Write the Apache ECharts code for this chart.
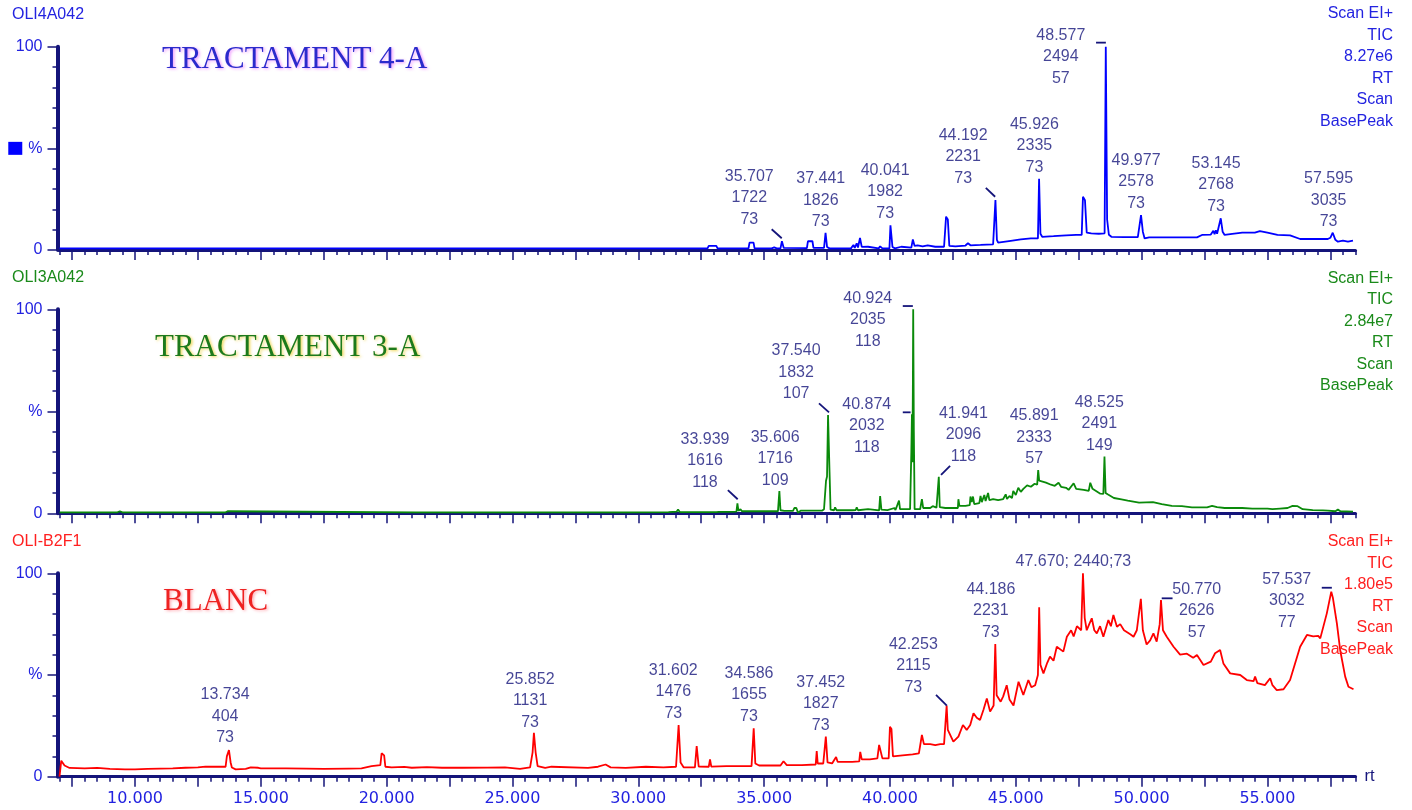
<!DOCTYPE html>
<html>
<head>
<meta charset="utf-8">
<title>Cromatograme TIC</title>
<script src="https://cdn.jsdelivr.net/npm/echarts@6/dist/echarts.min.js"></script>
<style>
  html, body { margin: 0; padding: 0; background: #fff; }
  #chart { width: 1412px; height: 810px; }
</style>
</head>
<body>
<div id="chart"></div>
<script>
// x: retention time (min), y: relative intensity (%)
const rtMin = 7
const rtMax = 58.5
const majorTicks = [7.5, 10, 12.5, 15, 17.5, 20, 22.5, 25, 27.5, 30, 32.5, 35, 37.5, 40, 42.5, 45, 47.5, 50, 52.5, 55, 57.5]
const labelTicks = [10, 15, 20, 25, 30, 35, 40, 45, 50, 55]

// OLI4A042 - TRACTAMENT 4-A
const blueTrace = [[7.0, 0.8], [32.75, 0.8], [32.8, 2.0], [33.1, 2.0], [33.15, 0.8],
  [34.38, 0.8], [34.42, 3.6], [34.58, 3.6], [34.62, 0.8],
  [35.3, 0.8], [35.4, 1.3], [35.5, 0.8], [35.65, 0.8], [35.707, 4.3], [35.78, 1.0],
  [36.7, 0.9], [36.74, 4.3], [36.92, 4.3], [36.96, 1.0],
  [37.38, 1.0], [37.441, 8.5], [37.5, 1.5], [37.6, 0.8],
  [38.45, 0.8], [38.55, 2.5], [38.6, 1.0], [38.68, 3.3], [38.73, 1.2], [38.81, 5.9], [38.88, 1.5], [38.95, 1.0],
  [39.13, 1.6], [39.2, 0.8], [39.55, 0.8], [39.61, 1.8], [39.7, 0.8],
  [39.98, 0.8], [40.02, 12.1], [40.06, 11.5], [40.1, 1.5], [40.2, 0.8], [40.45, 1.6], [40.5, 0.9],
  [40.85, 1.2], [40.91, 5.2], [40.98, 2.0], [41.1, 2.3], [41.3, 1.8], [41.5, 2.3], [41.8, 1.6], [42.15, 1.6],
  [42.2, 2.0], [42.23, 16.4], [42.3, 15.0], [42.36, 2.0],
  [42.6, 1.8], [43.0, 2.2], [43.1, 3.3], [43.2, 2.3], [43.6, 2.5], [44.1, 2.8],
  [44.15, 3.0], [44.192, 24.6], [44.25, 5.0], [44.3, 3.6],
  [44.8, 4.5], [45.2, 5.2], [45.6, 5.7], [45.88, 5.7], [45.926, 35.0], [45.98, 8.0], [46.05, 6.5],
  [46.5, 6.8], [47.0, 7.2], [47.4, 7.4], [47.62, 7.4], [47.67, 26.2], [47.75, 24.5], [47.82, 8.5], [48.0, 8.2],
  [48.3, 8.0], [48.53, 8.2], [48.577, 100], [48.63, 15.0], [48.7, 7.5], [48.8, 6.5],
  [49.3, 6.3], [49.85, 6.3], [49.9, 5.8], [49.977, 17.2], [50.05, 9.0], [50.12, 5.7], [50.3, 6.2],
  [51.5, 6.2], [52.2, 6.2], [52.4, 7.4], [52.75, 7.6], [52.85, 9.5], [52.9, 7.8], [52.95, 9.7], [53.0, 8.0],
  [53.145, 15.6], [53.22, 9.0], [53.3, 7.4],
  [53.6, 7.9], [54.0, 8.5], [54.5, 8.5], [54.7, 9.3], [55.0, 8.5], [55.4, 7.4], [55.9, 7.2], [56.3, 5.4],
  [57.4, 5.4], [57.5, 6.0], [57.595, 8.5], [57.7, 5.0], [57.8, 4.1], [58.0, 4.6], [58.2, 4.1], [58.4, 4.6]]

const t4aRT = ['35.707', '37.441', '40.041', '44.192', '45.926', '48.577', '49.977', '53.145', '57.595']
const t4aScan = [1722, 1826, 1982, 2231, 2335, 2494, 2578, 2768, 3035]
const t4aMass = [73, 73, 73, 73, 73, 57, 73, 73, 73]
const t4aLabelAt = [[34.41, 25.6], [37.25, 24.4], [39.81, 28.5], [42.91, 45.7], [45.74, 51.3], [46.79, 95.1], [49.78, 33.6], [52.96, 32.1], [57.43, 24.4]]
const t4aLeaders = [[[35.30, 10.2], [35.70, 5.8]], [[43.81, 30.6], [44.18, 26.2]], [[48.19, 102], [48.58, 102]]]

// OLI3A042 - TRACTAMENT 3-A
const greenTrace = [[7.0, 0.5], [9.3, 0.5], [9.4, 1.0], [9.5, 0.5], [13.6, 0.5], [13.68, 1.0], [13.75, 0.5],
  [21.15, 0.5], [21.2, 1.1], [21.25, 0.5], [21.75, 0.5], [21.8, 1.0], [21.85, 0.5], [22.2, 0.5], [22.25, 1.1], [22.3, 0.5],
  [24.7, 0.5], [24.77, 1.0], [24.85, 0.5], [26.1, 0.5], [26.16, 1.0], [26.22, 0.5], [27.25, 0.5], [27.29, 0.9], [27.33, 0.5],
  [29.1, 0.5], [29.14, 0.9], [29.2, 0.5], [29.56, 0.5], [29.61, 1.0], [29.67, 0.5],
  [31.2, 0.6], [31.26, 1.0], [31.52, 0.8], [31.58, 1.8], [31.65, 0.6], [32.28, 0.6], [32.32, 1.2], [32.38, 0.6],
  [33.1, 0.6], [33.15, 1.2], [33.2, 0.7], [33.45, 0.7], [33.5, 1.2], [33.55, 0.7],
  [33.9, 0.8], [33.939, 4.9], [33.98, 1.2], [34.06, 2.0], [34.12, 1.0], [34.6, 1.0], [35.2, 1.0],
  [35.55, 1.0], [35.606, 10.9], [35.65, 1.5], [35.8, 1.2],
  [36.15, 1.2], [36.2, 2.6], [36.28, 2.6], [36.35, 0.2], [36.45, 1.3],
  [37.3, 1.3], [37.38, 2.0], [37.46, 16.0], [37.5, 18.0], [37.54, 48.2], [37.6, 20.0], [37.64, 1.8],
  [37.78, 1.5], [37.82, 2.9], [37.88, 1.5], [38.5, 1.5], [38.64, 1.6], [38.68, 2.9], [38.73, 1.5], [39.13, 2.0], [39.2, 1.4],
  [39.57, 1.4], [39.61, 8.5], [39.66, 1.8], [39.9, 1.6], [40.18, 2.6], [40.22, 1.6], [40.36, 6.2], [40.4, 2.0], [40.7, 2.0],
  [40.8, 2.0], [40.85, 30.0], [40.874, 48.5], [40.89, 25.0], [40.91, 60.0], [40.924, 100], [40.95, 40.0], [40.98, 2.0],
  [41.2, 2.0], [41.27, 6.9], [41.32, 2.6], [41.6, 2.6], [41.7, 3.5], [41.85, 2.8],
  [41.9, 2.6], [41.941, 17.9], [41.98, 3.0], [42.2, 2.6], [42.7, 2.6], [42.72, 6.9], [42.76, 3.6], [43.0, 3.6],
  [43.17, 4.0], [43.2, 8.2], [43.25, 5.5], [43.3, 8.2], [43.35, 4.5],
  [43.55, 5.0], [43.6, 8.5], [43.65, 5.5], [43.75, 9.0], [43.8, 6.0], [43.9, 10.0], [43.95, 6.5], [44.1, 7.0],
  [44.3, 6.5], [44.5, 7.0], [44.6, 9.3], [44.65, 7.0], [44.75, 8.5], [44.85, 7.5],
  [44.9, 11.0], [45.0, 9.0], [45.1, 12.5], [45.2, 10.5], [45.3, 12.0], [45.45, 13.7], [45.6, 13.0], [45.75, 14.5],
  [45.85, 14.0], [45.891, 21.2], [45.93, 16.0], [46.0, 15.5], [46.2, 15.0], [46.4, 14.0], [46.55, 13.5], [46.7, 15.0],
  [46.8, 13.0], [47.0, 12.5], [47.1, 11.5], [47.3, 14.7], [47.4, 12.0], [47.7, 11.5], [47.9, 11.0], [47.96, 15.0],
  [48.05, 12.0], [48.36, 9.6], [48.48, 9.5], [48.525, 27.8], [48.57, 10.0], [48.65, 9.3],
  [48.9, 7.5], [49.2, 6.8], [49.45, 6.2], [49.9, 5.2], [50.45, 5.5], [50.8, 4.5], [51.2, 3.6], [51.6, 3.5],
  [52.0, 2.9], [52.6, 2.9], [52.8, 3.6], [53.0, 3.0], [53.3, 2.6], [54.0, 2.6], [54.4, 2.3], [55.0, 2.3], [55.2, 2.0],
  [55.5, 2.3], [55.8, 2.6], [56.0, 3.6], [56.2, 3.5], [56.4, 2.0], [56.8, 1.6], [57.2, 1.4], [57.4, 1.3],
  [57.7, 1.0], [57.8, 1.8], [57.9, 1.0], [58.4, 0.8]]

const t3aRT = ['33.939', '35.606', '37.540', '40.924', '40.874', '41.941', '45.891', '48.525']
const t3aScan = [1616, 1716, 1832, 2035, 2032, 2096, 2333, 2491]
const t3aMass = [118, 109, 107, 118, 118, 118, 57, 149]
const t3aLabelAt = [[32.65, 25.8], [35.44, 26.8], [36.27, 69.1], [39.12, 94.8], [39.08, 42.9], [42.92, 38.4], [45.73, 37.3], [48.32, 43.8]]
const t3aLeaders = [[[33.56, 11.4], [33.95, 6.9]], [[37.18, 53.9], [37.58, 49.5]], [[40.51, 101.6], [40.91, 101.6]],
  [[40.51, 49.5], [40.82, 49.5]], [[42.39, 23.2], [42.03, 18.8]]]

// OLI-B2F1 - BLANC
const redTrace = [[7.0, 0], [7.07, 7.9], [7.2, 5.5], [7.4, 4.3], [8.0, 4.1], [8.5, 4.3], [9.0, 3.8], [9.6, 3.6], [10.0, 3.6], [10.5, 3.8],
  [11.0, 4.0], [11.5, 4.1], [12.0, 4.4], [12.5, 4.6], [12.8, 5.0], [13.3, 4.9], [13.6, 4.9], [13.65, 10.0], [13.734, 13.1], [13.8, 7.0],
  [13.85, 4.5], [14.0, 3.6], [14.4, 3.8], [14.6, 4.6], [14.9, 4.4], [15.0, 4.1], [16.0, 4.1], [16.8, 4.0], [17.5, 3.8],
  [18.5, 4.0], [19.0, 4.1], [19.4, 5.2], [19.75, 5.7], [19.8, 11.5], [19.9, 10.5], [19.95, 4.9], [20.2, 4.6],
  [20.7, 4.8], [21.0, 4.4], [21.6, 4.7], [22.2, 4.4], [23.0, 4.4], [24.0, 4.5], [24.7, 4.6], [25.3, 3.8], [25.7, 4.6], [25.8, 12.0], [25.852, 21.6], [25.92, 12.0],
  [26.0, 5.2], [26.3, 4.3], [26.55, 4.9], [26.6, 4.3], [28.0, 4.3], [28.4, 4.9], [28.7, 6.0], [28.9, 4.6],
  [29.5, 4.3], [30.3, 4.9], [31.0, 4.6], [31.5, 4.9], [31.602, 25.4], [31.68, 7.0], [31.8, 4.6], [32.25, 4.6],
  [32.32, 15.1], [32.4, 5.0], [32.8, 4.9], [32.85, 8.5], [32.9, 5.0], [33.5, 5.2], [34.0, 5.2], [34.5, 5.2],
  [34.586, 23.8], [34.65, 6.5], [34.8, 5.5], [35.65, 5.5], [35.77, 7.6], [35.9, 5.7], [36.5, 5.7], [37.05, 6.0],
  [37.09, 12.6], [37.13, 6.5], [37.35, 6.5], [37.452, 19.7], [37.52, 7.0], [37.7, 6.5], [37.86, 9.7], [37.92, 7.3],
  [38.5, 7.3], [38.78, 7.5], [38.82, 12.2], [38.88, 8.5], [39.2, 8.5], [39.5, 9.0], [39.57, 15.6], [39.64, 15.0],
  [39.7, 9.0], [39.95, 9.0], [40.0, 24.6], [40.06, 23.5], [40.12, 10.0], [40.5, 10.5], [40.9, 11.0], [41.15, 11.5],
  [41.27, 20.5], [41.35, 16.0], [41.6, 16.0], [41.8, 15.5], [42.0, 16.0], [42.15, 16.0], [42.253, 35.0], [42.3, 23.0],
  [42.52, 17.2], [42.72, 19.7], [42.9, 25.4], [43.05, 23.0], [43.19, 25.4], [43.32, 31.2], [43.45, 29.0], [43.58, 27.9], [43.72, 33.0], [43.85, 38.5], [43.98, 32.0],
  [44.12, 35.0], [44.186, 65.2], [44.24, 40.0], [44.4, 36.9], [44.5, 39.5], [44.64, 45.0], [44.75, 38.0], [44.91, 35.0], [45.11, 46.7], [45.3, 40.2],
  [45.5, 47.5], [45.62, 44.0], [45.77, 45.0], [45.88, 50.0], [45.93, 83.3], [45.98, 55.0], [46.1, 50.8], [46.25, 56.0], [46.36, 59.0], [46.5, 57.0], [46.63, 63.9],
  [46.89, 61.5], [47.03, 68.8], [47.2, 72.0], [47.3, 69.0], [47.43, 74.0], [47.6, 72.0], [47.67, 100], [47.74, 78.0], [47.82, 72.0],
  [47.92, 75.0], [48.02, 77.9], [48.12, 72.0], [48.22, 70.5], [48.35, 74.0], [48.48, 68.8], [48.68, 77.0], [48.78, 74.0], [48.88, 79.5], [49.02, 73.7], [49.15, 75.0], [49.3, 72.0], [49.55, 70.0],
  [49.68, 68.8], [49.81, 72.0], [49.97, 87.4], [50.05, 72.0], [50.2, 65.0], [50.34, 67.0], [50.47, 70.5], [50.6, 66.4],
  [50.72, 75.0], [50.77, 86.9], [50.85, 72.0], [51.0, 68.8], [51.27, 63.9], [51.53, 60.0], [51.8, 60.5], [52.05, 58.5], [52.2, 59.8],
  [52.46, 54.9], [52.75, 56.6], [52.92, 60.7], [53.12, 62.3], [53.25, 55.7], [53.52, 50.8], [53.92, 50.0], [54.18, 47.5],
  [54.45, 47.0], [54.51, 49.2], [54.6, 46.0], [54.9, 45.0], [55.11, 48.4], [55.2, 45.0], [55.37, 42.6], [55.64, 43.0],
  [55.9, 47.5], [56.3, 63.9], [56.57, 69.7], [56.82, 69.0], [57.02, 69.2], [57.1, 68.0], [57.36, 80.3], [57.537, 91.0],
  [57.6, 88.0], [57.76, 75.4], [57.89, 62.3], [58.09, 49.2], [58.22, 44.2], [58.42, 43.0]]

const blancRT = ['13.734', '25.852', '31.602', '34.586', '37.452', '42.253', '44.186', '47.670', '50.770', '57.537']
const blancScan = [404, 1131, 1476, 1655, 1827, 2115, 2231, 2440, 2626, 3032]
const blancMass = [73, 73, 73, 73, 73, 73, 73, 73, 57, 77]
const blancInline = [7]
const blancLabelAt = [[13.58, 29.7], [25.70, 37.4], [31.39, 41.6], [34.40, 40.2], [37.25, 35.7], [40.93, 54.4],
  [44.01, 81.5], [47.29, 105.7], [52.19, 81.5], [55.77, 86.4]]
const blancLeaders = [[[41.83, 40.2], [42.26, 34.9]], [[50.80, 87.7], [51.23, 87.7]], [[57.16, 92.9], [57.56, 92.9]]]

const navy = '#14147a'
const ink = '#16167c'
const axisBlue = '#2222e0'

const panels = [
  {id: 'OLI4A042', tic: '8.27e6', name: 'TRACTAMENT 4-A', trace: blueTrace, color: '#0000ff', head: '#2323e0',
    nameColor: '#2b2bcc', glow: 'rgba(235,120,255,0.75)', rt: t4aRT, scan: t4aScan, mass: t4aMass, inline: [],
    at: t4aLabelAt, leaders: t4aLeaders, top: 46.7, height: 203.3, nameLeft: 162, nameTop: 44, idTop: 7, infoTop: 3.3},
  {id: 'OLI3A042', tic: '2.84e7', name: 'TRACTAMENT 3-A', trace: greenTrace, color: '#0a8a0a', head: '#1a8a1a',
    nameColor: '#1c7a1c', glow: 'rgba(235,205,40,0.8)', rt: t3aRT, scan: t3aScan, mass: t3aMass, inline: [],
    at: t3aLabelAt, leaders: t3aLeaders, top: 309.3, height: 204, nameLeft: 155, nameTop: 332, idTop: 270, infoTop: 267.5},
  {id: 'OLI-B2F1', tic: '1.80e5', name: 'BLANC', trace: redTrace, color: '#ff0000', head: '#ff2020',
    nameColor: '#ee2222', glow: 'rgba(255,150,160,0.8)', rt: blancRT, scan: blancScan, mass: blancMass, inline: blancInline,
    at: blancLabelAt, leaders: blancLeaders, top: 573.3, height: 203.4, nameLeft: 163, nameTop: 586, idTop: 534, infoTop: 531}
]

const grid = []
const xAxis = []
const yAxis = []
const series = []
const title = []

panels.forEach((p, i) => {
  const last = i === panels.length - 1
  grid.push({left: 59.5, width: 1296, top: p.top, height: p.height})

  xAxis.push({
    type: 'value', gridIndex: i, min: rtMin, max: rtMax, position: 'bottom',
    axisLine: {show: true, onZero: false, lineStyle: {color: navy, width: 3}},
    axisTick: {show: true, customValues: majorTicks, length: 10, lineStyle: {color: navy, width: 1.5}},
    axisLabel: {show: last, customValues: labelTicks, formatter: v => v.toFixed(3), color: axisBlue,
      fontSize: 16, fontFamily: 'DejaVu Sans', margin: 14},
    splitLine: {show: false},
    name: last ? 'rt' : '', nameLocation: 'end', nameGap: 9,
    nameTextStyle: {color: ink, fontSize: 16.5, fontFamily: 'Liberation Sans', verticalAlign: 'middle'}
  })
  // minor ticks every 0.5 min
  xAxis.push({
    type: 'value', gridIndex: i, min: rtMin, max: rtMax, interval: 0.5, position: 'bottom',
    axisLine: {show: false, onZero: false},
    axisTick: {show: true, length: 5, lineStyle: {color: navy, width: 1.5}},
    axisLabel: {show: false},
    splitLine: {show: false}
  })

  yAxis.push({
    type: 'value', gridIndex: i, min: 0, max: 100, interval: 50, offset: 2,
    axisLine: {show: true, lineStyle: {color: navy, width: 4}},
    axisTick: {show: true, length: 10, lineStyle: {color: navy, width: 1.5}},
    minorTick: {show: true, splitNumber: 5, length: 5, lineStyle: {color: navy, width: 1.5}},
    splitLine: {show: false},
    axisLabel: {
      color: axisBlue, fontSize: 16, fontFamily: 'Liberation Sans', margin: 15,
      formatter: v => v === 50 ? (i === 0 ? '{sq|}{gap|}%' : '%') : String(v),
      rich: {sq: {width: 14, height: 13, backgroundColor: '#0000ff'}, gap: {width: 6}}
    }
  })

  series.push({
    type: 'line', xAxisIndex: 2 * i, yAxisIndex: i, data: p.trace,
    symbol: 'none', showSymbol: false, silent: true,
    lineStyle: {color: p.color, width: 1.8}, itemStyle: {color: p.color}
  })

  series.push({
    type: 'scatter', xAxisIndex: 2 * i, yAxisIndex: i, symbolSize: 1, clip: false, silent: true,
    itemStyle: {color: 'rgba(0,0,0,0)'},
    data: p.rt.map((rt, k) => ({
      value: p.at[k],
      name: p.inline.includes(k) ? rt + '; ' + p.scan[k] + ';' + p.mass[k] : [rt, p.scan[k], p.mass[k]].join('\n')
    })),
    label: {show: true, position: 'inside', formatter: d => d.name, color: ink, fontSize: 16,
      lineHeight: 21.5, fontFamily: 'Liberation Sans'}
  })

  p.leaders.forEach(seg => {
    series.push({
      type: 'line', xAxisIndex: 2 * i, yAxisIndex: i, data: seg, symbol: 'none', clip: false, silent: true,
      lineStyle: {color: navy, width: 1.8}
    })
  })

  title.push({text: p.id, left: 12, top: p.idTop, padding: 0,
    textStyle: {color: p.head, fontSize: 16, fontWeight: 'normal', fontFamily: 'Liberation Sans', lineHeight: 16}})
  title.push({text: ['Scan EI+', 'TIC', p.tic, 'RT', 'Scan', 'BasePeak'].join('\n'), left: 1393, top: p.infoTop,
    textAlign: 'right', padding: 0,
    textStyle: {color: p.head, fontSize: 16, fontWeight: 'normal', fontFamily: 'Liberation Sans', lineHeight: 21.5}})
  title.push({text: p.name, left: p.nameLeft, top: p.nameTop, padding: 0,
    textStyle: {color: p.nameColor, fontSize: 31, fontWeight: 'normal', fontFamily: 'Liberation Serif',
      textShadowColor: p.glow, textShadowBlur: 3, textShadowOffsetX: 1.5, textShadowOffsetY: 1.5}})
})

const chart = echarts.init(document.getElementById('chart'))
chart.setOption({
  animation: false,
  backgroundColor: '#ffffff',
  title: title,
  grid: grid,
  xAxis: xAxis,
  yAxis: yAxis,
  series: series
})
</script>
</body>
</html>
